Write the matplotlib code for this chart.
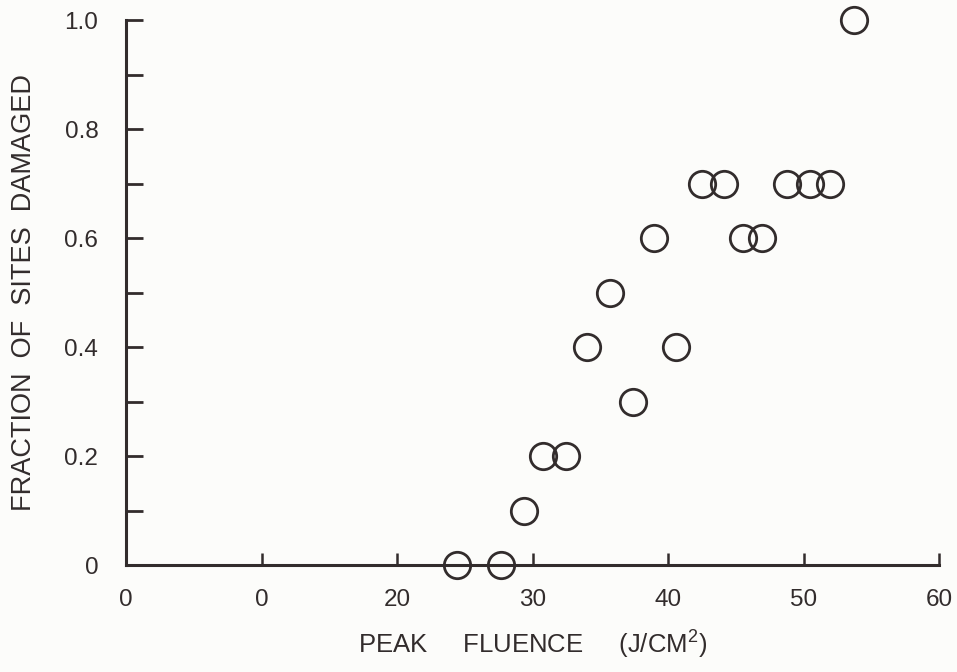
import numpy as np
import matplotlib
matplotlib.use('Agg')
import matplotlib.pyplot as plt

plt.rcParams['font.family'] = ['Liberation Sans', 'DejaVu Sans']
plt.rcParams['mathtext.default'] = 'regular'

# peak fluence (J/cm^2) and fraction of sites damaged
fluence = [24.4, 27.7, 29.4, 30.8, 32.5, 34.0, 35.7, 37.4, 39.0, 40.6,
           42.5, 44.1, 45.5, 46.9, 48.8, 50.5, 51.95, 53.7]
fraction = [0.0, 0.0, 0.1, 0.2, 0.2, 0.4, 0.5, 0.3, 0.6, 0.4,
            0.7, 0.7, 0.6, 0.6, 0.7, 0.7, 0.7, 1.0]

x_ticks = [0, 10, 20, 30, 40, 50, 60]
x_tick_labels = ['0', '0', '20', '30', '40', '50', '60']
y_ticks = [0, 0.1, 0.2, 0.3, 0.4, 0.5, 0.6, 0.7, 0.8, 0.9, 1.0]
y_tick_labels = ['0', '', '0.2', '', '0.4', '', '0.6', '', '0.8', '', '1.0']

ink = '#322c2c'
paper = '#fcfcfa'

fig = plt.figure(figsize=(9.57, 6.72), dpi=100, facecolor=paper)
ax = fig.add_axes([0.1317, 0.1592, 0.8495, 0.8108], facecolor=paper)

ax.plot(fluence, fraction, linestyle='none', marker='o', markersize=19,
        markerfacecolor='none', markeredgecolor=ink, markeredgewidth=2.0,
        clip_on=False, zorder=3)

ax.set_xlim(0, 60)
ax.set_ylim(0, 1.0)

for side in ['top', 'right']:
    ax.spines[side].set_visible(False)
for side in ['left', 'bottom']:
    ax.spines[side].set_linewidth(2.2)
    ax.spines[side].set_color(ink)

ax.set_xticks(x_ticks)
ax.set_xticklabels(x_tick_labels)
ax.set_yticks(y_ticks)
ax.set_yticklabels(y_tick_labels)
ax.tick_params(axis='x', direction='in', length=9, width=1.8, color=ink,
               pad=17, labelsize=17.5, labelcolor=ink)
ax.tick_params(axis='y', direction='in', length=12, width=2.0, color=ink,
               pad=20, labelsize=17.5, labelcolor=ink)

ax.set_xlabel('PEAK     FLUENCE     (J/CM$^{2}$)', fontsize=18.5, color=ink,
              labelpad=13)
ax.set_ylabel('FRACTION  OF  SITES  DAMAGED', fontsize=19.5, color=ink,
              labelpad=20)

fig.savefig('out.png', dpi=100, facecolor=paper)
